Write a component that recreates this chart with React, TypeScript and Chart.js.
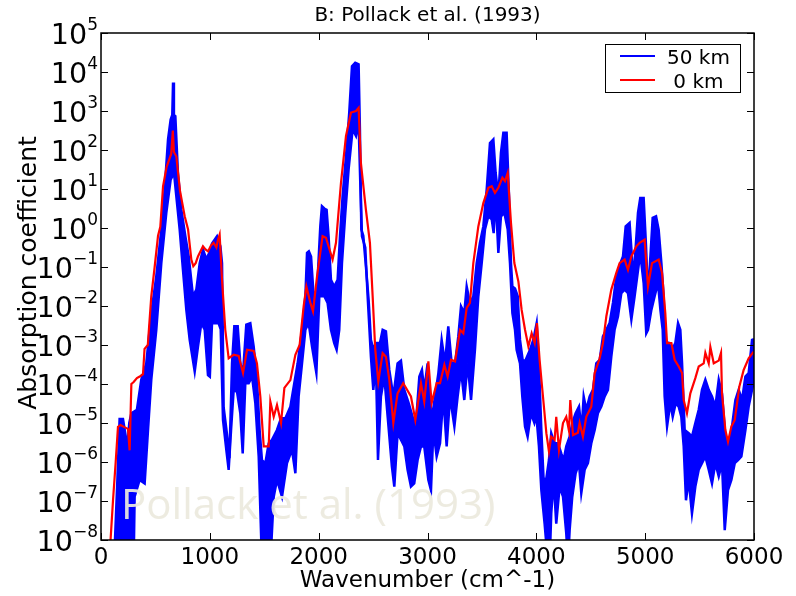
import React, { useEffect, useRef } from "react";
import { Chart, registerables } from "chart.js";

Chart.register(...registerables);

// ---- Labels ----
const titleText = "B: Pollack et al. (1993)";
const xAxisLabel = "Wavenumber (cm^-1)";
const yAxisLabel = "Absorption coefficient";
const watermarkText = "Pollack et al. (1993)";
const series50Label = "50 km";
const series0Label = " 0 km";

// ---- Tick values ----
const xTicks = [0, 1000, 2000, 3000, 4000, 5000, 6000];
const yTickExponents = [-8, -7, -6, -5, -4, -3, -2, -1, 0, 1, 2, 3, 4, 5];

// ---- Data: [wavenumber (cm^-1), log10(absorption coefficient)] ----
// 50 km: upper envelope of the densely oscillating line
const blue50kmUpper: [number, number][] = [
  [120, -8.6], [150, -6.5], [171, -4.9], [202, -4.9], [225, -5.3], [242, -5.6], [260, -5.0],
  [279, -4.75], [330, -4.66], [370, -3.89], [416, -3.47], [462, -2.18], [508, -1.24], [554, -0.04],
  [585, 0.99], [616, 2.27], [640, 2.78], [655, 2.9], [662, 3.73], [670, 2.9], [683, 2.87],
  [707, 1.41], [738, 0.47], [775, -0.21], [806, -0.73], [845, -1.75], [876, -1.58], [907, -0.9],
  [937, -0.55], [968, -0.8], [1000, -0.6], [1020, -0.4], [1066, -0.21], [1097, -0.47], [1112, -0.9],
  [1127, -4.6], [1158, -5.3], [1180, -5.9], [1204, -3.47], [1225, -2.52], [1256, -2.52], [1280, -3.47],
  [1305, -3.72], [1335, -2.48], [1372, -2.44], [1403, -3.04], [1433, -3.89], [1458, -5.2], [1479, -5.95],
  [1510, -6.03], [1541, -5.52], [1571, -5.43], [1617, -5.18], [1654, -4.88], [1694, -4.88], [1740, -4.58],
  [1776, -3.98], [1807, -3.47], [1847, -2.61], [1878, -1.75], [1893, -0.64], [1910, -0.6], [1930, -0.73],
  [1954, -1.75], [1985, -1.58], [2015, 0.04], [2030, 0.56], [2052, 0.5], [2073, 0.47], [2091, -0.21],
  [2113, -1.33], [2143, -1.5], [2174, -1.33], [2196, -0.21], [2220, 0.82], [2251, 1.84], [2281, 2.96],
  [2306, 4.15], [2336, 4.24], [2367, 4.2], [2379, 2.53], [2392, -0.04], [2410, -0.2], [2434, -0.98],
  [2459, -1.84], [2480, -2.87], [2502, -3.1], [2526, -2.95], [2563, -2.95], [2588, -2.61], [2618, -2.65],
  [2649, -3.64], [2686, -4.32], [2725, -3.47], [2756, -3.4], [2787, -4.15], [2827, -4.49], [2863, -4.84],
  [2894, -5.0], [2925, -3.81], [2949, -3.64], [2970, -4.15], [3001, -3.47], [3014, -4.0], [3038, -4.92],
  [3069, -4.32], [3100, -3.72], [3130, -2.87], [3161, -3.47], [3191, -2.52], [3222, -3.47], [3253, -3.47],
  [3283, -2.78], [3308, -2.01], [3338, -2.18], [3360, -1.5], [3390, -1.92], [3421, -1.75], [3452, -0.9],
  [3482, -0.38], [3513, 0.04], [3544, 0.99], [3574, 2.18], [3605, 2.27], [3626, 1.41], [3651, 0.82],
  [3675, 1.93], [3697, 2.44], [3727, 2.44], [3749, 0.82], [3767, -0.9], [3780, -1.5], [3804, -1.55],
  [3829, -1.75], [3850, -2.87], [3875, -3.4], [3900, -3.4], [3942, -3.12], [3972, -2.87], [4003, -2.44],
  [4024, -3.47], [4046, -5.18], [4067, -6.46], [4092, -6.42], [4116, -5.95], [4137, -5.26], [4168, -5.52],
  [4199, -5.52], [4229, -5.78], [4251, -5.95], [4275, -5.6], [4306, -5.35], [4330, -5.0], [4361, -4.75],
  [4392, -4.58], [4416, -5.18], [4435, -4.32], [4459, -4.66], [4490, -4.32], [4520, -4.15], [4551, -3.47],
  [4582, -3.38], [4612, -2.78], [4643, -2.61], [4673, -2.44], [4704, -1.92], [4735, -1.24], [4772, -0.9],
  [4796, -0.73], [4821, 0.04], [4857, 0.13], [4882, -0.9], [4903, -0.9], [4934, 0.39], [4955, 0.77],
  [4986, 0.77], [5008, -0.47], [5026, -1.75], [5048, -0.73], [5069, 0.26], [5100, 0.3], [5124, -0.04],
  [5149, -0.9], [5170, -1.75], [5185, -3.04], [5216, -2.95], [5247, -3.12], [5277, -2.95], [5302, -2.44],
  [5323, -2.61], [5339, -3.47], [5363, -5.18], [5400, -5.26], [5430, -5.35], [5461, -5.0], [5492, -4.66],
  [5522, -4.15], [5553, -3.89], [5584, -4.15], [5614, -4.32], [5645, -4.58], [5676, -3.89], [5706, -4.24],
  [5737, -5.35], [5767, -5.6], [5798, -5.09], [5829, -4.41], [5859, -4.15], [5890, -4.41], [5921, -3.81],
  [5951, -3.72], [5982, -2.87], [6000, -2.85],
];

// 50 km: lower envelope
const blue50kmLower: [number, number][] = [
  [110, -8.6], [300, -8.6], [309, -6.89], [355, -6.46], [401, -6.55], [432, -5.18], [462, -3.89],
  [508, -2.61], [554, -0.9], [600, 0.39], [640, 1.24], [671, 1.41], [692, 0.82], [723, -0.04],
  [753, -1.07], [784, -2.1], [815, -2.87], [861, -3.68], [891, -3.04], [922, -2.44], [953, -2.61],
  [983, -3.77], [1000, -3.81], [1020, -2.44], [1050, -2.44], [1080, -2.44], [1100, -2.6], [1121, -4.92],
  [1152, -5.7], [1173, -6.2], [1195, -5.18], [1219, -4.15], [1250, -4.2], [1280, -4.75], [1302, -5.78],
  [1326, -3.98], [1357, -3.98], [1388, -3.81], [1418, -4.49], [1449, -5.86], [1479, -8.6], [1556, -8.6],
  [1587, -6.89], [1617, -6.46], [1663, -6.89], [1709, -6.03], [1755, -5.69], [1786, -6.29], [1816, -4.32],
  [1847, -3.47], [1878, -2.61], [1908, -2.44], [1939, -3.04], [1979, -3.72], [2006, -1.75], [2052, -1.75],
  [2082, -1.92], [2113, -2.61], [2143, -2.95], [2165, -3.12], [2189, -2.61], [2214, -0.9], [2245, 0.39],
  [2275, 1.5], [2312, 2.53], [2343, 2.36], [2367, 2.7], [2382, 1.2], [2398, -0.21], [2428, -0.5],
  [2450, -1.75], [2480, -3.29], [2502, -4.15], [2526, -3.47], [2545, -5.95], [2572, -4.32], [2603, -3.81],
  [2634, -4.84], [2673, -6.12], [2695, -6.63], [2725, -5.26], [2756, -5.43], [2787, -5.6], [2817, -6.2],
  [2848, -6.63], [2878, -6.55], [2909, -5.95], [2940, -5.6], [2970, -5.6], [3008, -6.46], [3032, -6.72],
  [3054, -5.18], [3084, -5.86], [3115, -5.52], [3145, -4.32], [3176, -5.6], [3207, -4.32], [3247, -5.09],
  [3277, -4.32], [3308, -3.64], [3338, -4.41], [3369, -3.47], [3400, -4.41], [3436, -3.12], [3467, -1.75],
  [3498, -0.9], [3528, -0.04], [3559, 0.3], [3590, 0.22], [3608, -0.13], [3626, 0.82], [3651, -0.64],
  [3675, 0.3], [3706, 0.39], [3737, -0.04], [3758, -0.9], [3780, -2.18], [3804, -2.61], [3819, -3.12],
  [3850, -3.47], [3871, -4.32], [3896, -5.09], [3920, -5.35], [3951, -4.75], [3982, -5.0], [4000, -4.8],
  [4024, -5.6], [4046, -6.72], [4076, -7.58], [4107, -8.6], [4122, -8.6], [4137, -7.32], [4159, -6.46],
  [4183, -7.58], [4214, -6.63], [4245, -6.89], [4275, -7.83], [4291, -8.6], [4306, -7.75], [4330, -6.89],
  [4361, -6.29], [4392, -6.03], [4413, -6.8], [4444, -6.2], [4474, -6.03], [4505, -5.52], [4536, -5.18],
  [4566, -4.75], [4597, -4.58], [4628, -4.32], [4658, -4.15], [4689, -3.29], [4719, -2.61], [4750, -2.27],
  [4781, -1.67], [4811, -1.58], [4842, -1.67], [4873, -2.35], [4903, -1.75], [4943, -0.9], [4965, -0.9],
  [4986, -1.41], [5010, -2.7], [5026, -2.61], [5057, -2.1], [5087, -1.75], [5118, -1.41], [5140, -2.1],
  [5161, -2.61], [5179, -4.32], [5201, -5.09], [5231, -4.49], [5253, -4.84], [5280, -4.5], [5308, -4.58],
  [5332, -4.84], [5354, -5.6], [5375, -6.98], [5400, -6.46], [5430, -7.32], [5461, -6.63], [5492, -6.2],
  [5522, -6.03], [5553, -5.86], [5584, -6.2], [5614, -6.55], [5645, -6.03], [5676, -6.37], [5706, -6.03],
  [5731, -7.75], [5761, -6.72], [5792, -6.46], [5823, -6.03], [5853, -5.95], [5884, -5.86], [5921, -5.18],
  [5951, -4.58], [5982, -4.15], [6000, -3.9],
];

// 0 km
const red0km: [number, number][] = [
  [70, -8.8], [110, -7.0], [135, -6.0], [156, -5.1], [180, -5.05], [210, -5.1], [248, -5.15],
  [263, -5.7], [279, -4.0], [300, -3.95], [330, -3.85], [360, -3.8], [386, -3.75], [400, -3.1],
  [430, -3.0], [462, -1.75], [493, -1.0], [524, -0.2], [545, 0.03], [570, 1.07], [603, 1.57],
  [645, 1.9], [660, 2.5], [670, 1.95], [692, 1.84], [726, 0.95], [769, 0.3], [800, -0.04],
  [830, -0.81], [848, -0.98], [870, -0.9], [891, -0.73], [937, -0.47], [960, -0.55], [983, -0.6],
  [1010, -0.45], [1035, -0.38], [1060, -0.5], [1075, -0.3], [1090, -0.17], [1112, -1.33], [1142, -2.61],
  [1173, -3.34], [1219, -3.25], [1265, -3.28], [1305, -3.72], [1342, -3.12], [1403, -3.15], [1433, -3.47],
  [1464, -4.32], [1495, -5.6], [1541, -5.6], [1556, -4.45], [1587, -4.84], [1617, -4.54], [1654, -5.0],
  [1685, -4.1], [1740, -3.9], [1786, -3.25], [1825, -3.0], [1862, -2.01], [1887, -1.5], [1924, -1.92],
  [1948, -2.14], [1985, -1.24], [2036, -0.21], [2067, -0.25], [2128, -0.81], [2159, -0.38], [2205, 1.16],
  [2251, 2.36], [2297, 2.96], [2343, 3.0], [2367, 3.08], [2388, 1.67], [2434, 0.47], [2471, -0.38],
  [2496, -1.75], [2520, -3.12], [2548, -3.94], [2588, -3.21], [2618, -3.3], [2649, -3.89], [2686, -5.0],
  [2725, -4.24], [2777, -3.98], [2848, -4.32], [2888, -4.92], [2940, -3.98], [2970, -4.45], [3008, -3.42],
  [3038, -4.49], [3084, -3.98], [3115, -3.98], [3155, -3.51], [3185, -3.81], [3216, -3.38], [3253, -3.42],
  [3299, -2.61], [3329, -2.7], [3360, -2.05], [3390, -1.92], [3421, -0.9], [3467, 0.04], [3513, 0.64],
  [3559, 1.03], [3590, 1.07], [3620, 0.9], [3651, 1.03], [3688, 1.29], [3712, 1.2], [3737, 1.41],
  [3767, 0.13], [3798, -0.9], [3835, -1.37], [3865, -2.1], [3896, -2.61], [3927, -3.04], [3957, -2.7],
  [3985, -2.95], [4006, -2.44], [4030, -3.38], [4061, -4.32], [4092, -5.26], [4116, -5.73], [4137, -5.35],
  [4168, -5.43], [4183, -4.84], [4208, -5.69], [4245, -5.0], [4275, -4.84], [4300, -5.2], [4312, -4.41],
  [4337, -5.31], [4382, -5.25], [4398, -5.0], [4428, -5.35], [4459, -4.84], [4505, -4.58], [4536, -3.72],
  [4582, -3.34], [4612, -2.95], [4643, -2.27], [4689, -1.58], [4735, -1.15], [4765, -0.9], [4811, -0.81],
  [4842, -1.07], [4873, -0.73], [4919, -0.47], [4949, -0.38], [4995, -0.3], [5026, -1.5], [5063, -0.9],
  [5124, -0.81], [5155, -1.15], [5185, -2.18], [5201, -2.95], [5241, -2.95], [5271, -3.38], [5308, -3.55],
  [5339, -3.72], [5354, -4.41], [5384, -4.75], [5415, -4.24], [5461, -3.85], [5492, -3.55], [5538, -3.47],
  [5553, -3.2], [5584, -3.47], [5599, -3.05], [5630, -3.47], [5676, -3.4], [5697, -3.2], [5706, -4.24],
  [5737, -5.18], [5761, -5.48], [5792, -5.09], [5823, -4.92], [5865, -4.07], [5905, -3.64], [5951, -3.34],
  [5997, -3.17],
];

const toPoints = (arr: [number, number][]) => arr.map(([x, l]) => ({ x, y: Math.pow(10, l) }));

const FONT = "'DejaVu Sans', 'Bitstream Vera Sans', sans-serif";

const decorPlugin = {
  id: "decor",
  afterDraw(chart: any) {
    const { ctx, chartArea: a, scales } = chart;
    const xs = scales.x;
    const ys = scales.y;
    ctx.save();

    // Watermark (over data)
    ctx.font = "42px 'Open Sans', 'Noto Sans', sans-serif";
    ctx.fillStyle = "rgba(236, 233, 222, 0.93)";
    ctx.textAlign = "left";
    ctx.textBaseline = "alphabetic";
    ctx.fillText(watermarkText, a.left + 20, a.bottom - 21);

    // Frame
    ctx.strokeStyle = "#000";
    ctx.lineWidth = 1.5;
    ctx.strokeRect(a.left, a.top, a.right - a.left, a.bottom - a.top);

    // Inward ticks
    ctx.lineWidth = 1;
    ctx.strokeStyle = "#000";
    const tl = 7;
    ctx.beginPath();
    for (const v of xTicks) {
      const px = Math.round(xs.getPixelForValue(v)) + 0.5;
      ctx.moveTo(px, a.bottom);
      ctx.lineTo(px, a.bottom - tl);
      ctx.moveTo(px, a.top);
      ctx.lineTo(px, a.top + tl);
    }
    for (const e of yTickExponents) {
      const py = Math.round(ys.getPixelForValue(Math.pow(10, e))) + 0.5;
      ctx.moveTo(a.left, py);
      ctx.lineTo(a.left + tl, py);
      ctx.moveTo(a.right, py);
      ctx.lineTo(a.right - tl, py);
    }
    ctx.stroke();

    ctx.fillStyle = "#000";
    ctx.textBaseline = "alphabetic";

    // X tick labels
    ctx.font = `23px ${FONT}`;
    ctx.textAlign = "center";
    for (const v of xTicks) {
      ctx.fillText(String(v), xs.getPixelForValue(v), 564);
    }

    // Y tick labels 10^n (sized to the reference's visible widths)
    ctx.font = `29px ${FONT}`;
    const m10 = ctx.measureText("10");
    const vis10 = (m10.actualBoundingBoxLeft || 0) + (m10.actualBoundingBoxRight || m10.width);
    const f10 = Math.max(18, Math.min(32, (29 * 32) / vis10));
    const rightEdge = a.left - 3;
    for (const e of yTickExponents) {
      const py = ys.getPixelForValue(Math.pow(10, e));
      const sup = e < 0 ? "\u2212" + String(-e) : String(e);
      ctx.font = `17px ${FONT}`;
      const sw = ctx.measureText(sup).width;
      ctx.textAlign = "left";
      ctx.fillText(sup, rightEdge - sw, py - 3);
      ctx.font = `${f10}px ${FONT}`;
      ctx.textAlign = "right";
      ctx.fillText("10", rightEdge - sw, py + 11);
    }

    // Title
    ctx.font = `20px ${FONT}`;
    ctx.textAlign = "center";
    ctx.fillText(titleText, (a.left + a.right) / 2, 21);

    // X axis label
    ctx.font = `23px ${FONT}`;
    ctx.fillText(xAxisLabel, (a.left + a.right) / 2, 587);

    // Y axis label
    ctx.save();
    ctx.translate(36, 273);
    ctx.rotate(-Math.PI / 2);
    ctx.font = `25px ${FONT}`;
    ctx.textAlign = "center";
    ctx.fillText(yAxisLabel, 0, 0);
    ctx.restore();

    // Legend
    const lx = 605, ly = 44, lw = 135, lh = 48;
    ctx.fillStyle = "#fff";
    ctx.fillRect(lx, ly, lw, lh);
    ctx.strokeStyle = "#000";
    ctx.lineWidth = 1;
    ctx.strokeRect(lx + 0.5, ly + 0.5, lw, lh);
    const items = [
      { label: series50Label, color: "#0000ff", y: 56 },
      { label: series0Label, color: "#ff0000", y: 80 },
    ];
    ctx.font = `20px ${FONT}`;
    ctx.textAlign = "left";
    for (const it of items) {
      ctx.strokeStyle = it.color;
      ctx.lineWidth = 2;
      ctx.beginPath();
      ctx.moveTo(620, it.y);
      ctx.lineTo(655, it.y);
      ctx.stroke();
      ctx.fillStyle = "#000";
      ctx.fillText(it.label, 667, it.y + 8);
    }
    ctx.restore();
  },
};

export default function App() {
  const canvasRef = useRef<HTMLCanvasElement | null>(null);

  useEffect(() => {
    const canvas = canvasRef.current;
    if (!canvas) return;
    const chart = new Chart(canvas, {
      type: "line",
      data: {
        datasets: [
          {
            label: series50Label,
            data: toPoints(blue50kmUpper),
            borderColor: "#0000ff",
            backgroundColor: "#0000ff",
            borderWidth: 2.5,
            pointRadius: 0,
            fill: false,
            order: 1,
          },
          {
            label: series50Label + " (lower)",
            data: toPoints(blue50kmLower),
            borderColor: "#0000ff",
            backgroundColor: "#0000ff",
            borderWidth: 2.5,
            pointRadius: 0,
            fill: "-1",
            order: 1,
          },
          {
            label: series0Label,
            data: toPoints(red0km),
            borderColor: "#ff0000",
            backgroundColor: "#ff0000",
            borderWidth: 2.2,
            pointRadius: 0,
            fill: false,
            order: 0,
          },
        ],
      } as any,
      options: {
        animation: false,
        responsive: false,
        maintainAspectRatio: false,
        devicePixelRatio: 1,
        layout: { padding: { top: 33, right: 42, left: 0, bottom: 0 } },
        plugins: {
          legend: { display: false },
          tooltip: { enabled: false },
          title: { display: false },
        },
        scales: {
          x: {
            type: "linear",
            min: 0,
            max: 6000,
            afterBuildTicks: (s: any) => {
              s.ticks = xTicks.map((v) => ({ value: v }));
            },
            ticks: { display: false },
            grid: { display: false },
            border: { display: false },
            afterFit: (s: any) => {
              s.height = 56;
            },
          },
          y: {
            type: "logarithmic",
            min: 1e-8,
            max: 1e5,
            ticks: { display: false },
            grid: { display: false },
            border: { display: false },
            afterFit: (s: any) => {
              s.width = 101;
            },
          },
        },
      } as any,
      plugins: [decorPlugin],
    });
    return () => chart.destroy();
  }, []);

  return (
    <div style={{ position: "fixed", left: 0, top: 0, width: 796, height: 596, background: "#fff" }}>
      <canvas ref={canvasRef} width={796} height={596} style={{ width: 796, height: 596, display: "block" }} />
    </div>
  );
}
